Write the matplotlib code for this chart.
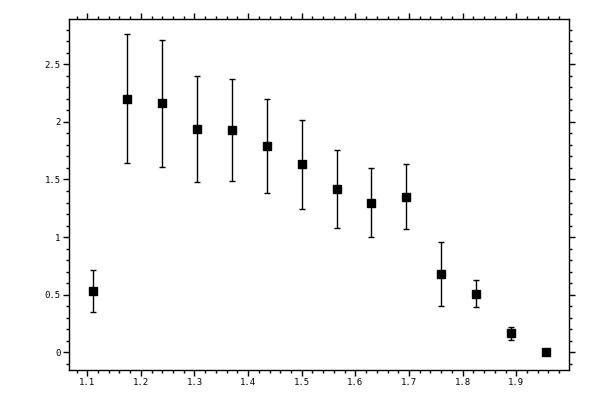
import numpy as np
import matplotlib
matplotlib.use("Agg")
import matplotlib.pyplot as plt
from matplotlib.ticker import MultipleLocator

x_vals = [1.11, 1.175, 1.24, 1.305, 1.37, 1.435, 1.5, 1.565,
          1.63, 1.695, 1.76, 1.825, 1.89, 1.955]
y_vals = [0.53, 2.20, 2.16, 1.94, 1.93, 1.79, 1.63, 1.42,
          1.30, 1.35, 0.68, 0.51, 0.165, 0.0]
y_errs = [0.18, 0.56, 0.55, 0.46, 0.44, 0.41, 0.39, 0.34,
          0.30, 0.28, 0.28, 0.117, 0.055, 0.0]

plt.rcParams['font.family'] = ['DejaVu Sans Mono']

fig = plt.figure(figsize=(6, 4), dpi=100)
ax = fig.add_axes([0.115, 0.075, 0.833, 0.8775])

ax.errorbar(x_vals, y_vals, yerr=y_errs, fmt='s', color='black',
            ms=5.2, elinewidth=1.0, capsize=2.2, capthick=1.0)

ax.set_xlim(1.066, 1.998)
ax.set_ylim(-0.154, 2.893)

ax.xaxis.set_major_locator(MultipleLocator(0.1))
ax.xaxis.set_minor_locator(MultipleLocator(0.02))
ax.yaxis.set_major_locator(MultipleLocator(0.5))
ax.yaxis.set_minor_locator(MultipleLocator(0.1))
ax.set_xticks(np.arange(1.1, 1.95, 0.1))
ax.set_xticklabels(['1.1', '1.2', '1.3', '1.4', '1.5', '1.6', '1.7', '1.8', '1.9'])
ax.set_yticks([0, 0.5, 1, 1.5, 2, 2.5])
ax.set_yticklabels(['0', '0.5', '1', '1.5', '2', '2.5'])

ax.tick_params(which='both', direction='out', top=True, right=True,
               width=1.0, labelsize=6.5, color='black')
ax.tick_params(which='major', length=4.0, pad=2)
ax.tick_params(which='minor', length=2.2)
for s in ax.spines.values():
    s.set_linewidth(1.0)

fig.savefig('out.png', dpi=100)
